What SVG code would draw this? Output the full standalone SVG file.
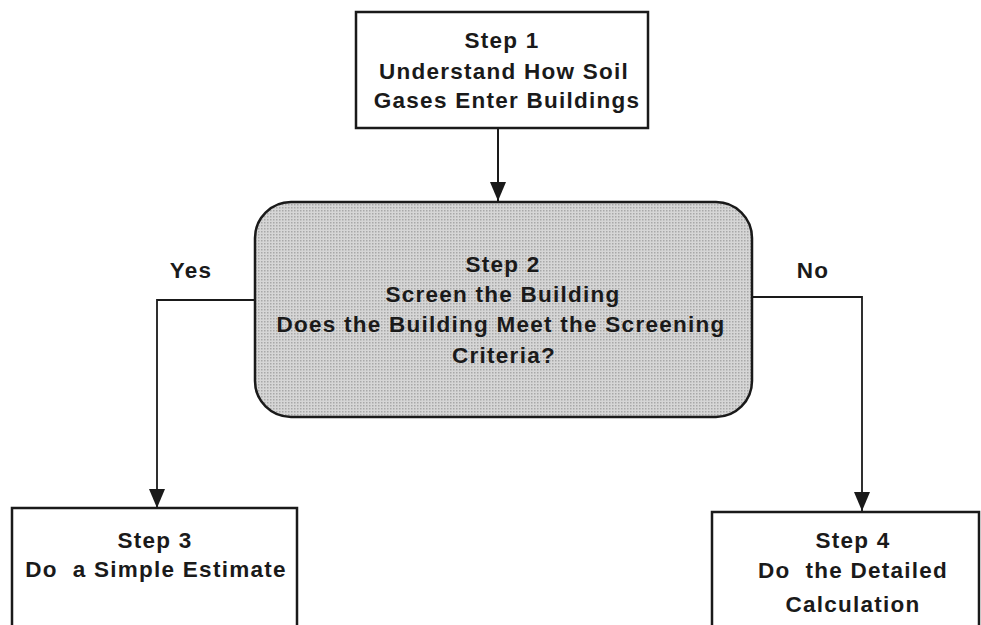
<svg xmlns="http://www.w3.org/2000/svg" width="981" height="625" viewBox="0 0 981 625">
<defs>
<style>
.box{fill:#ffffff;stroke:#1a1a1a;stroke-width:2.5}
.dec{fill:url(#dots);stroke:#1a1a1a;stroke-width:2.5}
.ln{fill:none;stroke:#1a1a1a;stroke-width:1.8}
text{font-family:"Liberation Sans",Arial,sans-serif;font-weight:bold;font-size:22.5px;fill:#1a1a1a;letter-spacing:1.25px;text-anchor:middle}
</style>
<pattern id="dots" width="3" height="3" patternUnits="userSpaceOnUse">
<rect width="3" height="3" fill="#d6d6d6"/>
<rect width="1.5" height="1.5" fill="#a8a8a8"/>
</pattern>
<marker id="arr" viewBox="0 0 19 16" refX="19" refY="8" markerWidth="19" markerHeight="16" markerUnits="userSpaceOnUse" orient="auto">
<path d="M0,0 L19,8 L0,16 Z" fill="#1a1a1a"/>
</marker>
</defs>
<g id="connectors">
<line class="ln" x1="498" y1="128" x2="498" y2="201" marker-end="url(#arr)" style="stroke-width:2"/>
<polyline class="ln" points="255,300 157,300 157,508" marker-end="url(#arr)"/>
<polyline class="ln" points="752,297 862,297 862,511" marker-end="url(#arr)"/>
</g>
<g id="step1">
<rect class="box" x="356" y="12" width="292" height="116"/>
<text x="502" y="48">Step 1</text>
<text x="504" y="79">Understand How Soil</text>
<text x="507" y="108">Gases Enter Buildings</text>
</g>
<g id="step2">
<rect class="dec" x="255" y="202" width="497" height="215" rx="36" ry="36"/>
<text x="503" y="272">Step 2</text>
<text x="503" y="302">Screen the Building</text>
<text x="501" y="332">Does the Building Meet the Screening</text>
<text x="504" y="363">Criteria?</text>
</g>
<g id="label-yes"><text x="191" y="278">Yes</text></g>
<g id="label-no"><text x="813" y="278">No</text></g>
<g id="step3">
<path class="box" d="M12,630 L12,508 L297,508 L297,630"/>
<text x="155" y="548">Step 3</text>
<text x="156" y="577" xml:space="preserve">Do  a Simple Estimate</text>
</g>
<g id="step4">
<path class="box" d="M712,630 L712,512 L979,512 L979,630"/>
<text x="853" y="548">Step 4</text>
<text x="853" y="578" xml:space="preserve">Do  the Detailed</text>
<text x="853" y="612">Calculation</text>
</g>
</svg>
